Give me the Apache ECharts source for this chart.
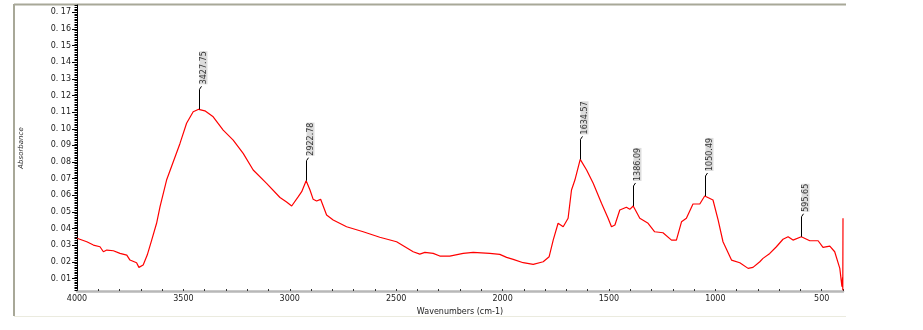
<!DOCTYPE html>
<html>
<head>
<meta charset="utf-8">
<script src="https://cdn.jsdelivr.net/npm/echarts@6/dist/echarts.min.js"></script>
<style>
html,body{margin:0;padding:0;background:#fff;}
#chart{width:923px;height:330px;}
</style>
</head>
<body>
<div id="chart"></div>
<script>
const wavenumbers = [4000,3954,3923,3892,3876,3860,3829,3798,3766,3751,3720,3709,3689,3670,3649,3626,3610,3579,3516,3485,3454,3428,3399,3360,3313,3266,3219,3172,3109,3046,3015,2991,2960,2944,2923,2905,2890,2874,2855,2827,2796,2733,2655,2577,2498,2420,2389,2365,2326,2295,2248,2185,2138,2060,2013,1981,1950,1903,1856,1809,1781,1762,1739,1715,1692,1676,1660,1635,1605,1574,1535,1504,1488,1472,1449,1418,1402,1386,1355,1316,1285,1246,1206,1183,1159,1136,1105,1073,1050,1011,987,964,924,885,846,823,791,776,744,713,682,658,635,596,556,517,494,462,439,415,405,402,401,400];
const absorbance = [0.0342,0.0321,0.0301,0.0291,0.0261,0.0271,0.0267,0.0251,0.0241,0.0211,0.0195,0.0167,0.0181,0.0241,0.0331,0.0432,0.0531,0.0692,0.0912,0.1033,0.1102,0.1117,0.1108,0.1072,0.0992,0.0932,0.0852,0.0752,0.0672,0.0587,0.0560,0.0536,0.0592,0.0622,0.0688,0.0632,0.0576,0.0566,0.0576,0.0482,0.0452,0.0411,0.0381,0.0348,0.0321,0.0261,0.0247,0.0257,0.0251,0.0235,0.0235,0.0251,0.0257,0.0251,0.0245,0.0227,0.0215,0.0195,0.0185,0.0201,0.0231,0.0331,0.0432,0.0411,0.0462,0.0632,0.0692,0.0816,0.0752,0.0672,0.0552,0.0462,0.0411,0.0422,0.0512,0.0528,0.0516,0.0536,0.0462,0.0432,0.0381,0.0375,0.0331,0.0331,0.0441,0.0462,0.0548,0.0548,0.0596,0.0572,0.0452,0.0321,0.0211,0.0195,0.0161,0.0167,0.0201,0.0221,0.0251,0.0291,0.0336,0.0351,0.0331,0.0351,0.0327,0.0327,0.0287,0.0295,0.0261,0.0161,0.0051,0.0107,0.0030,0.0462];
const peakWavenumbers = [3427.75, 2922.78, 1634.57, 1386.09, 1050.49, 595.65];
const peakAbsorbance = [0.1117, 0.0688, 0.0816, 0.0536, 0.0596, 0.0351];
const peakLabels = ['3427.75', '2922.78', '1634.57', '1386.09', '1050.49', '595.65'];
const yTickValues = [0.01,0.02,0.03,0.04,0.05,0.06,0.07,0.08,0.09,0.10,0.11,0.12,0.13,0.14,0.15,0.16,0.17];
const xTickLabels = [4000, 3500, 3000, 2500, 2000, 1500, 1000, 500];

const yMinor = [];
for (let i = 3; i <= 174; i++) yMinor.push(i / 1000);

const spectrum = wavenumbers.map((w, i) => [w, absorbance[i]]);
const peaks = peakWavenumbers.map((w, i) => [w, peakAbsorbance[i], peakLabels[i]]);

const FONT = 'DejaVu Sans, sans-serif';
const chart = echarts.init(document.getElementById('chart'), null, {renderer: 'canvas'});
const grid = {left: 77, right: 80, top: 5, bottom: 39};
chart.setOption({
  animation: false,
  backgroundColor: '#ffffff',
  grid: grid,
  graphic: [
    {type: 'line', shape: {x1: 14, y1: 4.5, x2: 846, y2: 4.5}, style: {stroke: '#a8a898', lineWidth: 2}},
    {type: 'line', shape: {x1: 14, y1: 4, x2: 14, y2: 316}, style: {stroke: '#a8a898', lineWidth: 2}},
    {type: 'line', shape: {x1: 14, y1: 316.5, x2: 846, y2: 316.5}, style: {stroke: '#ebebdf', lineWidth: 1}}
  ],
  xAxis: {
    type: 'value', inverse: true, min: 400, max: 4000, interval: 100,
    name: 'Wavenumbers (cm-1)', nameLocation: 'middle', nameGap: 14,
    nameTextStyle: {fontFamily: FONT, fontSize: 8, color: '#222', padding: [0, 0, 0, 0]},
    axisLine: {show: true, lineStyle: {color: '#b8b8b8', width: 2.5}},
    axisTick: {show: true, inside: true, length: 2, lineStyle: {color: '#333', width: 1}},
    axisLabel: {
      fontFamily: FONT, fontSize: 8, color: '#222', margin: 4,
      formatter: v => (xTickLabels.indexOf(v) >= 0 ? String(v) : '')
    },
    splitLine: {show: false}
  },
  yAxis: [{
    type: 'value', min: 0.0025, max: 0.1744,
    name: 'Absorbance', nameLocation: 'middle', nameGap: 52,
    nameTextStyle: {fontFamily: FONT, fontSize: 7, color: '#333', fontStyle: 'italic'},
    axisLine: {show: true, lineStyle: {color: '#000', width: 1}},
    axisTick: {show: true, length: 5, customValues: yTickValues, lineStyle: {color: '#000'}},
    axisLabel: {
      fontFamily: FONT, fontSize: 8, color: '#222', margin: 6,
      customValues: yTickValues,
      formatter: v => v.toFixed(2).replace('0.', '0. ')
    },
    splitLine: {show: false}
  }, {
    type: 'value', min: 0.0025, max: 0.1744, position: 'left',
    axisLine: {show: false},
    axisTick: {show: true, length: 2.5, customValues: yMinor, lineStyle: {color: '#000'}},
    axisLabel: {show: false},
    splitLine: {show: false}
  }],
  series: [{
    type: 'line', data: spectrum, showSymbol: false, symbol: 'none',
    lineStyle: {color: '#ff0000', width: 1.2}, z: 3
  }, {
    type: 'custom', data: peaks, z: 4,
    renderItem: function (params, api) {
      const p = api.coord([api.value(0), api.value(1)]);
      const x = Math.round(p[0]) + 0.5;
      return {
        type: 'group',
        children: [
          {type: 'line', shape: {x1: x, y1: p[1], x2: x, y2: p[1] - 20}, style: {stroke: '#000', lineWidth: 1}},
          {type: 'line', shape: {x1: x, y1: p[1] - 20, x2: x + 2, y2: p[1] - 23}, style: {stroke: '#000', lineWidth: 1}},
          {type: 'text', x: x + 4, y: p[1] - 25, rotation: Math.PI / 2,
            style: {text: api.value(2), font: '8px ' + FONT, fill: '#333', align: 'left', verticalAlign: 'middle', backgroundColor: '#dcdcdc'}}
        ]
      };
    }
  }]
});
</script>
</body>
</html>
